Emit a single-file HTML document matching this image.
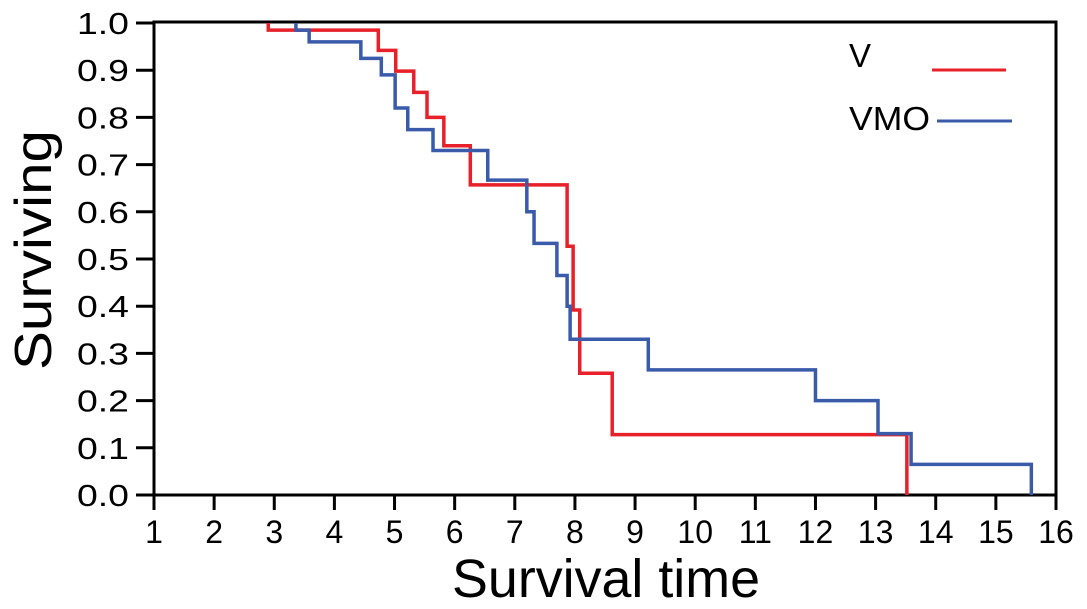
<!DOCTYPE html>
<html><head><meta charset="utf-8"><style>
html,body{margin:0;padding:0;background:#fff;}
svg{display:block;font-family:"Liberation Sans",Arial,sans-serif;}
</style></head><body>
<svg id="chart" width="1087" height="609"></svg>
<script>
const xTicks=[1,2,3,4,5,6,7,8,9,10,11,12,13,14,15,16];
const yTicks=[0,0.1,0.2,0.3,0.4,0.5,0.6,0.7,0.8,0.9,1.0];
const vTimes=[2.90,4.73,5.02,5.32,5.54,5.82,6.26,7.87,7.97,8.08,8.62,13.52];
const vValues=[1.0,0.985,0.942,0.898,0.853,0.80,0.74,0.657,0.527,0.392,0.258,0.128,0];
const vmoTimes=[3.36,3.58,4.44,4.78,5.01,5.22,5.64,6.55,7.20,7.32,7.70,7.87,7.92,9.22,12.0,13.04,13.59,15.59];
const vmoValues=[1.0,0.985,0.96,0.925,0.89,0.82,0.774,0.73,0.667,0.60,0.533,0.465,0.40,0.33,0.265,0.2,0.13,0.065,0];
const NS='http://www.w3.org/2000/svg';
const svg=document.getElementById('chart');
const L=154,R=1056,T=23,B=495;
const sx=t=>L+(t-1)*(R-L)/15;
const sy=v=>B-v*(B-T);
function el(tag,attrs,parent){const e=document.createElementNS(NS,tag);for(const k in attrs)e.setAttribute(k,attrs[k]);(parent||svg).appendChild(e);return e;}
let f=el('path',{d:`M${L},${B} L${L},22 L${R},22 L${R},${B}`,fill:'none',stroke:'#000','stroke-width':3});


let xa=el('line',{x1:136,x2:R,y1:B,y2:B,stroke:'#000','stroke-width':3});


yTicks.forEach(v=>{
 const y=sy(v);
 const tk=el('line',{x1:136,x2:L,y1:y,y2:y,stroke:'#000','stroke-width':3});
 
 
 const tx=el('text',{x:129,y:y+11,'text-anchor':'end','font-size':31,fill:'#000',textLength:52,lengthAdjust:'spacingAndGlyphs'});
 tx.textContent=v.toFixed(1);
 
 
});
xTicks.forEach(t=>{
 const x=sx(t);
 const tk=el('line',{x1:x,x2:x,y1:B,y2:B+15,stroke:'#000','stroke-width':3});
 
 
 const tx=el('text',{x:x,y:543,'text-anchor':'middle','font-size':32,fill:'#000'});
 tx.textContent=String(t);
 
 
});
function stepPath(times,vals){
 let d=`M${sx(times[0])},${sy(vals[0])}`;
 for(let i=0;i<times.length;i++){
  d+=` L${sx(times[i])},${sy(vals[i])} L${sx(times[i])},${sy(vals[i+1])}`;
  if(i+1<times.length)d+=` L${sx(times[i+1])},${sy(vals[i+1])}`;
 }
 return d;
}
const pv=el('path',{d:stepPath(vTimes,vValues),fill:'none',stroke:'#e8202a','stroke-width':3.5});


const pb=el('path',{d:stepPath(vmoTimes,vmoValues),fill:'none',stroke:'#3a5aaa','stroke-width':3.5});


const l1=el('text',{x:849,y:67,'font-size':33,fill:'#000'});l1.textContent='V';


const ll1=el('line',{x1:932,x2:1006,y1:70,y2:70,stroke:'#e8202a','stroke-width':3});


const l2=el('text',{x:849,y:130,'font-size':33,fill:'#000',textLength:81,lengthAdjust:'spacingAndGlyphs'});l2.textContent='VMO';


const ll2=el('line',{x1:937,x2:1012,y1:121,y2:121,stroke:'#3a5aaa','stroke-width':3});


const yt=el('text',{x:0,y:0,'font-size':52,'text-anchor':'middle',fill:'#000',textLength:240,lengthAdjust:'spacingAndGlyphs',transform:'translate(51,250) rotate(-90)'});
yt.textContent='Surviving';


const xt=el('text',{x:606,y:597,'font-size':54,'text-anchor':'middle',fill:'#000',textLength:308,lengthAdjust:'spacingAndGlyphs'});
xt.textContent='Survival time';


</script>
</body></html>
